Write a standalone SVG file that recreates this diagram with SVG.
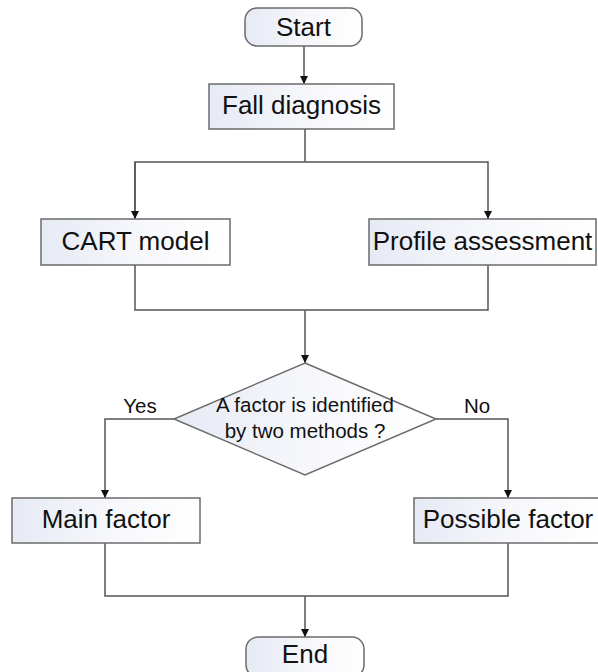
<svg xmlns="http://www.w3.org/2000/svg" width="598" height="672" viewBox="0 0 598 672">
  <style>
    .box { stroke: #6b6b6b; stroke-width: 1.5; fill: url(#boxFill); }
    .label { font-family: "Liberation Sans", Arial, sans-serif; font-size: 26px; fill: #111; text-anchor: middle; }
    .small { font-family: "Liberation Sans", Arial, sans-serif; font-size: 20.5px; fill: #111; text-anchor: middle; }
    .wire { fill: none; stroke: #555; stroke-width: 1.5; }
  </style>
  <defs>
    <linearGradient id="boxFill" x1="0" y1="0" x2="1" y2="0">
      <stop offset="0" stop-color="#e6eaf4"/>
      <stop offset="0.5" stop-color="#f6f7fb"/>
      <stop offset="1" stop-color="#ffffff"/>
    </linearGradient>
    <marker id="arrow" viewBox="0 0 10 10" refX="10" refY="5" markerWidth="8" markerHeight="8" markerUnits="userSpaceOnUse" orient="auto">
      <path d="M0,0 L10,5 L0,10 z" fill="#111"/>
    </marker>
  </defs>
  <rect width="598" height="672" fill="#ffffff"/>

  <g id="connectors">
    <line class="wire" x1="304" y1="46" x2="304" y2="84" marker-end="url(#arrow)"/>
    <polyline class="wire" points="305,129 305,162"/>
    <polyline class="wire" points="135,219 135,162 488,162 488,219" marker-end="url(#arrow)"/>
    <line class="wire" x1="135" y1="162" x2="135" y2="219" marker-end="url(#arrow)"/>
    <polyline class="wire" points="135,265 135,310 488,310 488,265"/>
    <line class="wire" x1="305" y1="310" x2="305" y2="363" marker-end="url(#arrow)"/>
    <polyline class="wire" points="174,419 105,419 105,498" marker-end="url(#arrow)"/>
    <polyline class="wire" points="436,419 508,419 508,498" marker-end="url(#arrow)"/>
    <polyline class="wire" points="105,543 105,596 508,596 508,543"/>
    <line class="wire" x1="305" y1="596" x2="305" y2="637" marker-end="url(#arrow)"/>
  </g>

  <g id="start">
    <rect class="box" x="245" y="8" width="117" height="38" rx="12"/>
    <text class="label" x="303.5" y="36">Start</text>
  </g>

  <g id="fall-diagnosis">
    <rect class="box" x="209" y="84" width="185" height="45"/>
    <text class="label" x="301.5" y="114">Fall diagnosis</text>
  </g>

  <g id="cart-model">
    <rect class="box" x="41" y="219" width="189" height="46"/>
    <text class="label" x="135.5" y="250">CART model</text>
  </g>

  <g id="profile-assessment">
    <rect class="box" x="369" y="219" width="227" height="46"/>
    <text class="label" x="482.5" y="250">Profile assessment</text>
  </g>

  <g id="decision">
    <polygon class="box" points="305,363 436,419 305,475 174,419"/>
    <text class="small" x="305" y="412">A factor is identified</text>
    <text class="small" x="305" y="438">by two methods ?</text>
  </g>

  <g id="branch-labels">
    <text class="small" x="140" y="413">Yes</text>
    <text class="small" x="477" y="413">No</text>
  </g>

  <g id="main-factor">
    <rect class="box" x="12" y="498" width="188" height="45"/>
    <text class="label" x="106" y="528">Main factor</text>
  </g>

  <g id="possible-factor">
    <rect class="box" x="414" y="498" width="188" height="45"/>
    <text class="label" x="508" y="528">Possible factor</text>
  </g>

  <g id="end">
    <rect class="box" x="246" y="637" width="118" height="40" rx="12"/>
    <text class="label" x="305" y="663">End</text>
  </g>
</svg>
